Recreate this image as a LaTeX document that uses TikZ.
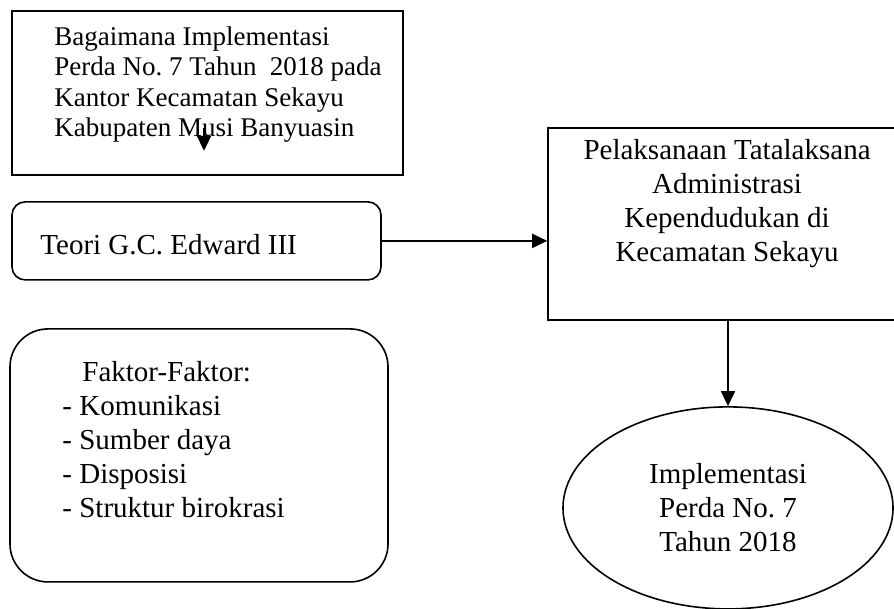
\documentclass[tikz,border=0pt]{standalone}
\usepackage{fontspec}
\setmainfont{Liberation Serif}
\usepackage{xcolor}
\usetikzlibrary{arrows.meta,shapes.geometric}
\frenchspacing

\begin{document}
\begin{tikzpicture}[
    font=\fontsize{14.5}{17}\selectfont,
    kotak/.style={draw,line width=0.8pt,inner sep=0pt},
    teks/.style={inner sep=0pt},
    panah/.style={line width=1pt,-{Triangle[width=7pt,length=7.5pt]}}
    ]
    \useasboundingbox (0,0) rectangle (15.71,10.70);

    \node[kotak,minimum width=6.87cm,minimum height=2.88cm] (rumusan) at (3.646,9.068) {};
    \node[teks,anchor=west,align=left,font=\fontsize{13.5}{15.25}\selectfont] (rumusanT) at (0.949,9.21) {Bagaimana Implementasi\\Perda No. 7 Tahun\ \ 2018 pada\\Kantor Kecamatan Sekayu\\Kabupaten Musi Banyuasin};
    \coordinate (p1) at (3.585,8.45);
    \coordinate (p2) at (3.585,8.05);
    \draw[panah] (p1) -- (p2);

    \node[kotak,rounded corners=0.23cm,minimum width=6.484cm,minimum height=1.371cm] (teori) at (3.453,6.467) {};
    \node[teks,anchor=base west] (teoriT) at (0.703,6.221) {Teori G.C. Edward III};

    \node[kotak,minimum width=6.12cm,minimum height=3.373cm] (pelaksanaan) at (12.69,6.766) {};
    \node[teks,align=center] (pelaksanaanT) at (12.776,7.12) {Pelaksanaan Tatalaksana\\Administrasi\\Kependudukan di\\Kecamatan Sekayu};
    \draw[panah] (teori.east) -- (teori.east -| pelaksanaan.west);

    \node[kotak,ellipse,minimum width=5.8cm,minimum height=3.55cm,align=center] (implementasi) at (12.793,1.775) {Implementasi\\Perda No. 7\\Tahun 2018};
    \draw[panah] (implementasi.north |- pelaksanaan.south) -- (implementasi.north);

    \node[kotak,rounded corners=0.668cm,minimum width=6.643cm,minimum height=4.446cm] (faktor) at (3.497,2.697) {};
    \node[teks,anchor=west,align=left] (faktorT) at (1.09,2.97) {\hspace*{10pt}Faktor-Faktor:\\- Komunikasi\\- Sumber daya\\- Disposisi\\- Struktur birokrasi};
\end{tikzpicture}
\end{document}
